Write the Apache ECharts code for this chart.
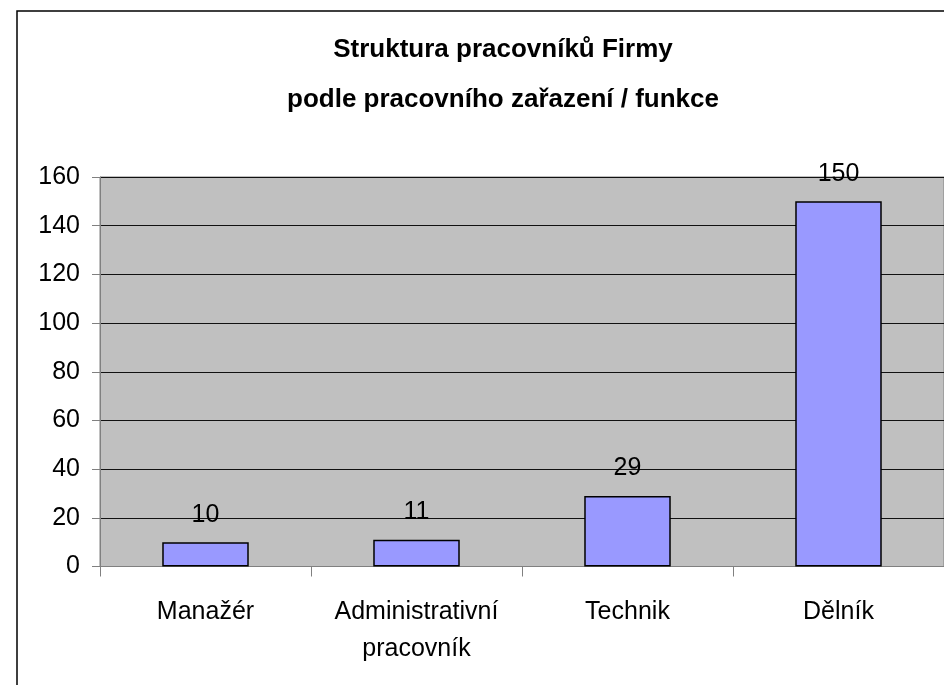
<!DOCTYPE html>
<html>
<head>
<meta charset="utf-8">
<script src="https://cdn.jsdelivr.net/npm/echarts@6/dist/echarts.min.js"></script>
<style>
html,body{margin:0;padding:0;background:#fff;}
#chart{width:944px;height:685px;}
</style>
</head>
<body>
<div id="chart"></div>
<script>
const titleLines = ['Struktura pracovníků Firmy', 'podle pracovního zařazení / funkce'];
const categories = ['Manažér', 'Administrativní\npracovník', 'Technik', 'Dělník'];
const values = [10, 11, 29, 150];
const yMin = 0, yMax = 160, yStep = 20;

const FONT = '"Liberation Sans", Arial, sans-serif';
const chart = echarts.init(document.getElementById('chart'), null, {renderer: 'canvas'});
chart.setOption({
  backgroundColor: '#ffffff',
  animation: false,
  title: {
    text: titleLines.join('\n'),
    left: 498,
    top: 20,
    textAlign: 'center',
    textStyle: {fontFamily: FONT, fontSize: 26, fontWeight: 'bold', color: '#000', lineHeight: 50}
  },
  graphic: [{
    type: 'rect',
    shape: {x: 17, y: 11, width: 1000, height: 700},
    style: {fill: 'none', stroke: '#000', lineWidth: 1.5},
    z: 100
  }],
  grid: {
    left: 100, right: -2, top: 177, bottom: 118.5,
    show: true, backgroundColor: '#c0c0c0', borderColor: '#808080', borderWidth: 1,
    containLabel: false
  },
  xAxis: {
    type: 'category',
    data: categories,
    axisLine: {show: true, lineStyle: {color: '#808080', width: 1}},
    axisTick: {show: true, length: 10, lineStyle: {color: '#808080'}},
    axisLabel: {fontFamily: FONT, fontSize: 25, color: '#000', margin: 27, lineHeight: 37, interval: 0},
    splitLine: {show: false}
  },
  yAxis: {
    type: 'value',
    min: yMin, max: yMax, interval: yStep,
    axisLine: {show: true, lineStyle: {color: '#808080', width: 1}},
    axisTick: {show: true, length: 8, lineStyle: {color: '#808080'}},
    axisLabel: {fontFamily: FONT, fontSize: 25, color: '#000', margin: 20},
    splitLine: {show: true, lineStyle: {color: '#111', width: 1}}
  },
  series: [{
    type: 'bar',
    data: values,
    barCategoryGap: '59%',
    itemStyle: {color: '#9999ff', borderColor: '#000', borderWidth: 1.5},
    label: {show: true, position: 'top', distance: 15, fontFamily: FONT, fontSize: 25, color: '#000'}
  }]
});
</script>
</body>
</html>
